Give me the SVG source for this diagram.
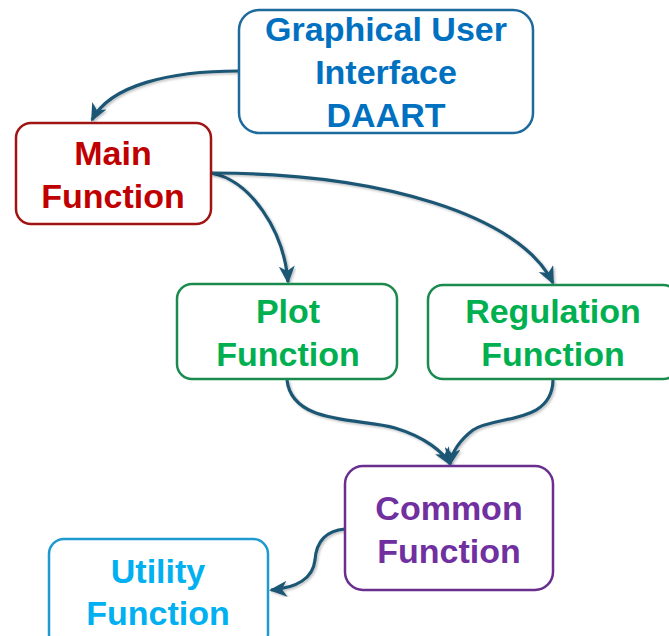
<svg xmlns="http://www.w3.org/2000/svg" width="669" height="636" viewBox="0 0 669 636">
<defs>
<marker id="arr" viewBox="0 0 18 16" refX="16" refY="8" markerWidth="18" markerHeight="16" markerUnits="userSpaceOnUse" orient="auto">
<path d="M0,0 L18,8 L0,16 L5,8 z" fill="#1d5775"/>
</marker>
<filter id="sh" x="-10%" y="-10%" width="120%" height="120%">
<feDropShadow dx="1.5" dy="1.5" stdDeviation="1.2" flood-color="#000" flood-opacity="0.25"/>
</filter>
</defs>
<style>
.box{fill:#fff;stroke-width:2.5}
.t{font-family:"Liberation Sans",Arial,sans-serif;font-weight:bold;font-size:34px;text-anchor:middle}
.c{fill:none;stroke:#1d5775;stroke-width:3.2;marker-end:url(#arr);filter:url(#sh)}
</style>
<g id="connectors">
<path class="c" d="M239,71 C170,71 110,85 92,120"/>
<path class="c" d="M211,173 C250,180 284,230 288,282"/>
<path class="c" d="M211,173 C380,173 520,215 553,283"/>
<path class="c" d="M287,380 C292,425 360,418 395,428 C425,437 443,452 450,464"/>
<path class="c" d="M553,380 C552,425 495,415 473,430 C460,440 452,452 450,464"/>
<path class="c" d="M345,529 C322,531 316,546 315,560 C313,578 297,588 271,590"/>
</g>
<g id="gui">
<rect class="box" x="239" y="10" width="294" height="123" rx="20" stroke="#1f6a9c"/>
<text class="t" x="386" y="41" fill="#0070c0">Graphical User</text>
<text class="t" x="386" y="84" fill="#0070c0">Interface</text>
<text class="t" x="386" y="127" fill="#0070c0">DAART</text>
</g>
<g id="main">
<rect class="box" x="16" y="123" width="195" height="101" rx="15" stroke="#a01414"/>
<text class="t" x="113" y="165" fill="#c00000">Main</text>
<text class="t" x="113" y="208" fill="#c00000">Function</text>
</g>
<g id="plot">
<rect class="box" x="177" y="284" width="220" height="95" rx="15" stroke="#1a8a4e"/>
<text class="t" x="288" y="323" fill="#00b050">Plot</text>
<text class="t" x="288" y="366" fill="#00b050">Function</text>
</g>
<g id="regulation">
<rect class="box" x="428" y="285" width="250" height="94" rx="15" stroke="#1a8a4e"/>
<text class="t" x="553" y="323" fill="#00b050">Regulation</text>
<text class="t" x="553" y="366" fill="#00b050">Function</text>
</g>
<g id="common">
<rect class="box" x="345" y="466" width="208" height="124" rx="18" stroke="#6a2f8e"/>
<text class="t" x="449" y="520" fill="#7030a0">Common</text>
<text class="t" x="449" y="563" fill="#7030a0">Function</text>
</g>
<g id="utility">
<rect class="box" x="49" y="539" width="219" height="110" rx="15" stroke="#1e9ad0"/>
<text class="t" x="158" y="583" fill="#00b0f0">Utility</text>
<text class="t" x="158" y="625" fill="#00b0f0">Function</text>
</g>
</svg>
